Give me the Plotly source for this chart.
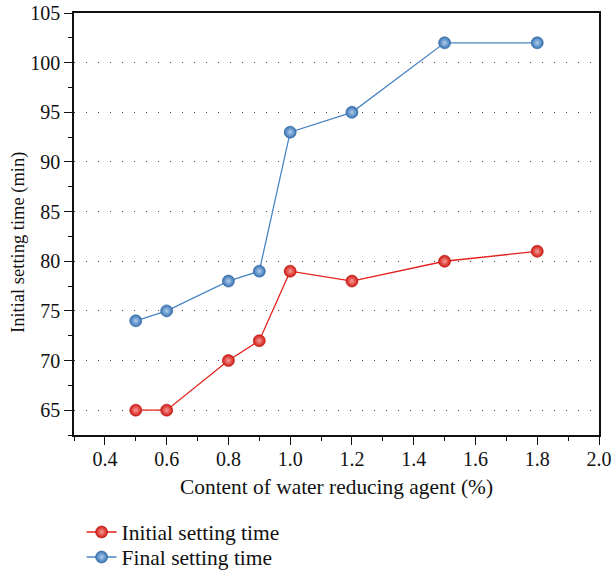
import plotly.graph_objects as go

x_vals = [0.5, 0.6, 0.8, 0.9, 1.0, 1.2, 1.5, 1.8]
initial_time = [65, 65, 70, 72, 79, 78, 80, 81]
final_time = [74, 75, 78, 79, 93, 95, 102, 102]
x_ticks = [0.4, 0.6, 0.8, 1.0, 1.2, 1.4, 1.6, 1.8, 2.0]
x_tick_labels = ["0.4", "0.6", "0.8", "1.0", "1.2", "1.4", "1.6", "1.8", "2.0"]
y_ticks = [65, 70, 75, 80, 85, 90, 95, 100, 105]

FONT = "Liberation Serif"

fig = go.Figure()
fig.add_trace(go.Scatter(
    x=x_vals, y=initial_time, mode="lines+markers", name="Initial setting time",
    line=dict(color="#e3201b", width=1.3), legend="legend",
    marker=dict(color="#d41711", size=12, line=dict(color="#b01510", width=0.6),
                gradient=dict(type="radial", color="#f59d98")),
))
fig.add_trace(go.Scatter(
    x=x_vals, y=final_time, mode="lines+markers", name="Final setting time",
    line=dict(color="#4a86c4", width=1.3), legend="legend2",
    marker=dict(color="#3572b4", size=12, line=dict(color="#2a5e99", width=0.6),
                gradient=dict(type="radial", color="#b0cdec")),
))

fig.add_annotation(
    text="Initial setting time (min)", textangle=-90,
    xref="paper", yref="paper", x=-0.107, y=0.457,
    xanchor="center", yanchor="middle", showarrow=False,
    font=dict(family=FONT, size=18.5, color="#111"),
)

leg_common = dict(xanchor="left", yanchor="middle",
                  font=dict(family=FONT, size=21.5, color="#111"),
                  itemwidth=30, bgcolor="rgba(0,0,0,0)", borderwidth=0)

fig.update_layout(
    width=615, height=574,
    margin=dict(l=74, r=16, t=13, b=139, autoexpand=False),
    paper_bgcolor="white", plot_bgcolor="white",
    font=dict(family=FONT, size=17, color="#111"),
    showlegend=True,
    legend=dict(x=0.0145, y=(435 - 532) / 422, **leg_common),
    legend2=dict(x=0.0145, y=(435 - 557) / 422, **leg_common),
    xaxis=dict(
        range=[0.3, 2.0], tickvals=x_ticks, ticktext=x_tick_labels,
        ticks="outside", ticklen=8, tickwidth=1.2, tickcolor="#111",
        showline=True, linecolor="#111", linewidth=1.5, mirror=True,
        showgrid=False, zeroline=False, automargin=False,
        ticklabelstandoff=-3,
        minor=dict(ticks="outside", ticklen=4, tickwidth=1.2, tickcolor="#111", dtick=0.1, tick0=0.3),
        title=dict(text="Content of water reducing agent (%)", font=dict(family=FONT, size=21.4), standoff=10),
        tickfont=dict(family=FONT, size=20),
    ),
    yaxis=dict(
        range=[62.5, 105], tickvals=y_ticks,
        ticks="outside", ticklen=8, tickwidth=1.2, tickcolor="#111",
        showline=True, linecolor="#111", linewidth=1.5, mirror=True,
        showgrid=True, gridcolor="#444", griddash="1px,11px", gridwidth=1.2,
        zeroline=False, automargin=False,
        minor=dict(ticks="outside", ticklen=4, tickwidth=1.2, tickcolor="#111", dtick=2.5, tick0=62.5, showgrid=False),
        tickfont=dict(family=FONT, size=20),
    ),
)

fig.write_html("out.html", config={"displayModeBar": False},
               post_script="document.body.style.margin='0';")
